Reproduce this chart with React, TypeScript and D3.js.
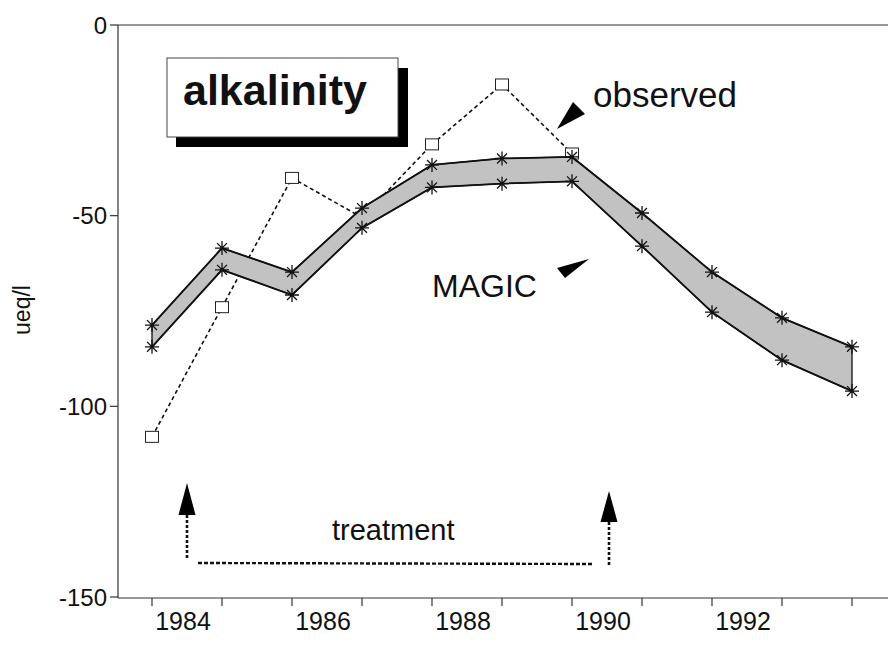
import React from 'react';
import * as d3 from 'd3';

const years = [1983.5, 1984.5, 1985.5, 1986.5, 1987.5, 1988.5, 1989.5, 1990.5, 1991.5, 1992.5, 1993.5];
const observedYears = [1983.5, 1984.5, 1985.5, 1986.5, 1987.5, 1988.5, 1989.5];
const observed = [-108, -74, -40.1, -50.5, -31.3, -15.6, -33.7];
const magicUpper = [-78.7, -58.5, -64.8, -48.0, -36.7, -35.0, -34.6, -49.3, -64.8, -76.8, -84.4];
const magicLower = [-84.4, -64.2, -70.8, -53.2, -42.6, -41.6, -41.0, -58.0, -75.3, -87.9, -96.0];
const yTicks = [0, -50, -100, -150];
const xTickYears = years;
const xLabelYears = [1984, 1986, 1988, 1990, 1992];
const treatmentYears = [1984, 1990];

const FONT = "'Liberation Sans', Arial, Helvetica, sans-serif";

export default function App() {
  const W = 888;
  const H = 647;
  const x = d3.scaleLinear().domain([1983.5, 1993.5]).range([152, 852]);
  const y = d3.scaleLinear().domain([0, -150]).range([25, 597]);
  const axisX = 118;
  const axisY = 598;

  const band = years.map((yr, i) => ({ year: yr, upper: magicUpper[i], lower: magicLower[i] }));
  const area = d3
    .area<any>()
    .x((d) => x(d.year))
    .y0((d) => y(d.lower))
    .y1((d) => y(d.upper));
  const line = d3
    .line<any>()
    .x((d) => x(d[0]))
    .y((d) => y(d[1]));

  const obsPts = observedYears.map((yr, i) => [yr, observed[i]]);
  const upperPts = years.map((yr, i) => [yr, magicUpper[i]]);
  const lowerPts = years.map((yr, i) => [yr, magicLower[i]]);

  const star = (cx: number, cy: number, r: number) => {
    let p = '';
    for (let k = 0; k < 4; k++) {
      const a = (k * Math.PI) / 4;
      const dx = r * Math.cos(a);
      const dy = r * Math.sin(a);
      p += `M${cx - dx},${cy - dy}L${cx + dx},${cy + dy}`;
    }
    return p;
  };

  const tx0 = x(treatmentYears[0]);
  const tx1 = x(treatmentYears[1]);

  return (
    <svg
      width={W}
      height={H}
      style={{ position: 'absolute', left: 0, top: 0, background: '#fff' }}
      fontFamily={FONT}
    >
      <rect x={0} y={0} width={W} height={H} fill="#fff" />
      {/* frame / axes */}
      <line x1={axisX} y1={25} x2={W} y2={25} stroke="#333" strokeWidth={1.2} />
      <line x1={axisX} y1={25} x2={axisX} y2={axisY} stroke="#333" strokeWidth={1.2} />
      <line x1={axisX} y1={axisY} x2={W} y2={axisY} stroke="#333" strokeWidth={1.2} />
      {yTicks.map((t) => (
        <g key={'y' + t}>
          <line x1={axisX - 8} y1={y(t)} x2={axisX} y2={y(t)} stroke="#333" strokeWidth={1.2} />
          <text x={107} y={y(t)} dy="0.36em" textAnchor="end" fontSize={24} fill="#111">
            {t}
          </text>
        </g>
      ))}
      {xTickYears.map((t) => (
        <line key={'xt' + t} x1={x(t)} y1={axisY} x2={x(t)} y2={axisY + 8} stroke="#333" strokeWidth={1.2} />
      ))}
      {xLabelYears.map((t) => (
        <text key={'xl' + t} x={x(t) - 4} y={630} textAnchor="middle" fontSize={25} fill="#111">
          {t}
        </text>
      ))}
      <text
        transform={`translate(30,310) rotate(-90)`}
        textAnchor="middle"
        fontSize={23}
        fill="#111"
      >
        ueq/l
      </text>

      {/* observed */}
      <path d={line(obsPts as any) || ''} fill="none" stroke="#111" strokeWidth={1.6} strokeDasharray="4,3" />
      {obsPts.map((p, i) => (
        <rect
          key={'o' + i}
          x={x(p[0]) - 6.5}
          y={y(p[1]) - 5.5}
          width={13}
          height={11}
          fill="#fff"
          stroke="#222"
          strokeWidth={1}
        />
      ))}

      {/* MAGIC band */}
      <path d={area(band) || ''} fill="#c2c2c2" stroke="#111" strokeWidth={1.3} />
      <path d={line(upperPts as any) || ''} fill="none" stroke="#111" strokeWidth={1.8} />
      <path d={line(lowerPts as any) || ''} fill="none" stroke="#111" strokeWidth={1.8} />
      {upperPts.map((p, i) => (
        <path key={'u' + i} d={star(x(p[0]), y(p[1]), 7)} stroke="#111" strokeWidth={1.3} />
      ))}
      {lowerPts.map((p, i) => (
        <path key={'l' + i} d={star(x(p[0]), y(p[1]), 7)} stroke="#111" strokeWidth={1.3} />
      ))}

      {/* title box */}
      <rect x={176} y={68} width={232} height={79} fill="#000" />
      <rect x={167} y={58} width={231} height={79} fill="#fff" stroke="#444" strokeWidth={1} />
      <text x={183} y={105} fontSize={43} fontWeight="bold" fill="#111">
        alkalinity
      </text>

      {/* labels */}
      <text x={593} y={107} fontSize={35} fill="#111">
        observed
      </text>
      <polygon points="573,102 585,114 557,129" fill="#000" />
      <text x={432} y={297} fontSize={32} fill="#111">
        MAGIC
      </text>
      <polygon points="557,268 589,259 565,278" fill="#000" />

      {/* treatment */}
      <text x={332} y={540} fontSize={29} fill="#111">
        treatment
      </text>
      <polygon points={`${tx0},${483} ${tx0 - 8.5},${515} ${tx0 + 8.5},${515}`} fill="#000" />
      <line x1={tx0} y1={515} x2={tx0} y2={559} stroke="#111" strokeWidth={2.6} strokeDasharray="3,2" />
      <line x1={tx0 + 11} y1={563} x2={tx1 - 14} y2={564} stroke="#111" strokeWidth={2.4} strokeDasharray="4,2" />
      <polygon points={`${tx1 + 2},${491} ${tx1 - 6.5},${522} ${tx1 + 10.5},${522}`} fill="#000" />
      <line x1={tx1 + 2} y1={522} x2={tx1 + 2} y2={565} stroke="#111" strokeWidth={2.6} strokeDasharray="3,2" />
    </svg>
  );
}
